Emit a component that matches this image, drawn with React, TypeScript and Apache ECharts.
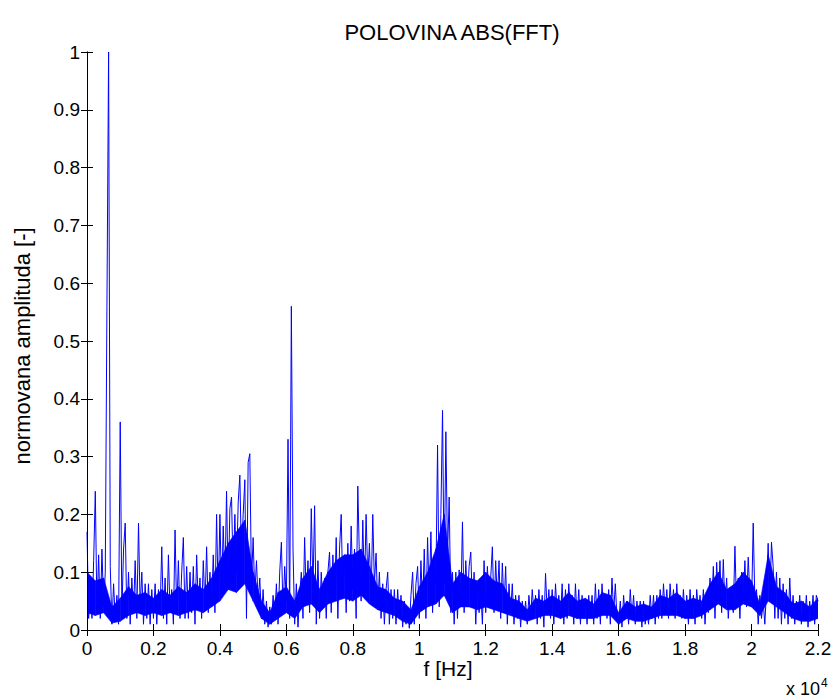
import React, { useEffect, useRef } from "react";
import * as echarts from "echarts";

// Spectrum trace: one sample every 50 Hz, each segment covers 2000 Hz
const STEP_HZ = 50;
const SEG_0 = [0.17, 0.02, 0.09, 0.02, 0.12, 0.24, 0.03, 0.13, 0.02, 0.14, 0.04, 0.1, 0.56, 1.0, 0.11, 0.01, 0.08, 0.02, 0.06, 0.01, 0.36, 0.03, 0.14, 0.185, 0.02, 0.1, 0.01, 0.09, 0.03, 0.12, 0.02, 0.185, 0.04, 0.1, 0.01, 0.08, 0.02, 0.08, 0.01, 0.07];
const SEG_1 = [0.02, 0.08, 0.01, 0.07, 0.03, 0.144, 0.02, 0.09, 0.01, 0.13, 0.03, 0.07, 0.01, 0.173, 0.03, 0.12, 0.02, 0.1, 0.16, 0.02, 0.11, 0.02, 0.1, 0.03, 0.11, 0.01, 0.13, 0.04, 0.09, 0.02, 0.12, 0.04, 0.144, 0.03, 0.1, 0.04, 0.13, 0.03, 0.2, 0.05];
const SEG_2 = [0.2, 0.06, 0.18, 0.08, 0.24, 0.07, 0.21, 0.23, 0.09, 0.2, 0.1, 0.22, 0.268, 0.12, 0.2, 0.26, 0.02, 0.29, 0.305, 0.08, 0.16, 0.06, 0.12, 0.05, 0.09, 0.02, 0.07, 0.01, 0.05, 0.005, 0.04, 0.01, 0.06, 0.02, 0.08, 0.01, 0.1, 0.152, 0.03, 0.11];
const SEG_3 = [0.05, 0.33, 0.02, 0.56, 0.14, 0.01, 0.08, 0.005, 0.06, 0.1, 0.02, 0.16, 0.05, 0.12, 0.03, 0.21, 0.07, 0.215, 0.01, 0.12, 0.02, 0.1, 0.04, 0.09, 0.02, 0.1, 0.135, 0.03, 0.13, 0.05, 0.16, 0.02, 0.14, 0.2, 0.06, 0.13, 0.03, 0.15, 0.05, 0.18];
const SEG_4 = [0.07, 0.14, 0.02, 0.249, 0.12, 0.05, 0.19, 0.07, 0.2, 0.09, 0.15, 0.05, 0.2, 0.08, 0.133, 0.04, 0.1, 0.02, 0.08, 0.01, 0.07, 0.1, 0.01, 0.07, 0.02, 0.07, 0.01, 0.07, 0.02, 0.06, 0.005, 0.05, 0.01, 0.04, 0.003, 0.06, 0.1, 0.01, 0.08, 0.11];
const SEG_5 = [0.02, 0.12, 0.04, 0.14, 0.02, 0.16, 0.05, 0.17, 0.03, 0.12, 0.08, 0.32, 0.04, 0.2, 0.38, 0.08, 0.343, 0.13, 0.23, 0.03, 0.1, 0.01, 0.1, 0.02, 0.104, 0.04, 0.187, 0.03, 0.12, 0.05, 0.11, 0.135, 0.04, 0.1, 0.01, 0.08, 0.03, 0.07, 0.01, 0.12];
const SEG_6 = [0.03, 0.11, 0.05, 0.09, 0.144, 0.03, 0.12, 0.05, 0.12, 0.02, 0.116, 0.04, 0.11, 0.01, 0.08, 0.03, 0.08, 0.01, 0.06, 0.02, 0.06, 0.005, 0.05, 0.02, 0.05, 0.01, 0.06, 0.02, 0.07, 0.03, 0.06, 0.01, 0.07, 0.02, 0.06, 0.005, 0.098, 0.03, 0.07, 0.02];
const SEG_7 = [0.07, 0.01, 0.08, 0.03, 0.06, 0.02, 0.08, 0.01, 0.07, 0.02, 0.08, 0.03, 0.06, 0.01, 0.08, 0.02, 0.07, 0.01, 0.06, 0.02, 0.05, 0.01, 0.06, 0.02, 0.06, 0.01, 0.08, 0.02, 0.07, 0.01, 0.08, 0.03, 0.06, 0.02, 0.07, 0.01, 0.09, 0.03, 0.08, 0.02];
const SEG_8 = [0.01, 0.05, 0.005, 0.06, 0.02, 0.05, 0.01, 0.07, 0.02, 0.06, 0.01, 0.05, 0.02, 0.05, 0.005, 0.05, 0.01, 0.04, 0.01, 0.06, 0.02, 0.06, 0.01, 0.06, 0.02, 0.07, 0.02, 0.08, 0.03, 0.07, 0.02, 0.08, 0.03, 0.07, 0.02, 0.08, 0.03, 0.06, 0.02, 0.07];
const SEG_9 = [0.02, 0.06, 0.01, 0.07, 0.02, 0.06, 0.01, 0.07, 0.03, 0.06, 0.02, 0.07, 0.01, 0.06, 0.03, 0.09, 0.04, 0.11, 0.02, 0.117, 0.05, 0.12, 0.03, 0.122, 0.04, 0.09, 0.02, 0.07, 0.07, 0.03, 0.145, 0.04, 0.09, 0.02, 0.1, 0.05, 0.12, 0.04, 0.126, 0.06];
const SEG_10 = [0.04, 0.185, 0.05, 0.07, 0.01, 0.06, 0.02, 0.05, 0.01, 0.07, 0.15, 0.05, 0.152, 0.11, 0.02, 0.1, 0.02, 0.09, 0.01, 0.08, 0.02, 0.07, 0.01, 0.09, 0.02, 0.06, 0.01, 0.05, 0.02, 0.06, 0.01, 0.05, 0.02, 0.06, 0.005, 0.05, 0.02, 0.06, 0.01, 0.06, 0.05];

// Dense core of the trace (lower / upper edge of the solid band), one value every 250 Hz
const CORE_STEP_HZ = 250;
const CORE_LO = [
  0.03, 0.025, 0.03, 0.012, 0.015, 0.025, 0.03, 0.025,
  0.03, 0.025, 0.03, 0.025, 0.03, 0.035, 0.03, 0.04,
  0.05, 0.07, 0.065, 0.08, 0.05, 0.02, 0.01, 0.02,
  0.03, 0.02, 0.04, 0.045, 0.03, 0.045, 0.05, 0.055,
  0.05, 0.06, 0.045, 0.035, 0.03, 0.025, 0.015, 0.01,
  0.03, 0.04, 0.045, 0.06, 0.03, 0.04, 0.04, 0.035,
  0.04, 0.035, 0.03, 0.025, 0.02, 0.015, 0.02, 0.025,
  0.025, 0.02, 0.025, 0.02, 0.02, 0.02, 0.025, 0.025,
  0.01, 0.02, 0.015, 0.015, 0.02, 0.025, 0.025, 0.025,
  0.02, 0.02, 0.025, 0.035, 0.045, 0.035, 0.035, 0.045,
  0.04, 0.025, 0.05, 0.04, 0.03, 0.02, 0.015, 0.015,
  0.02,
];
const CORE_HI = [
  0.1, 0.085, 0.09, 0.04, 0.055, 0.075, 0.06, 0.065,
  0.055, 0.07, 0.06, 0.075, 0.065, 0.08, 0.07, 0.09,
  0.12, 0.15, 0.17, 0.19, 0.1, 0.05, 0.03, 0.065,
  0.075, 0.05, 0.09, 0.11, 0.07, 0.1, 0.12, 0.13,
  0.13, 0.14, 0.11, 0.075, 0.07, 0.055, 0.05, 0.035,
  0.075, 0.1, 0.14, 0.2, 0.08, 0.1, 0.09, 0.085,
  0.1, 0.085, 0.08, 0.055, 0.05, 0.035, 0.055, 0.05,
  0.06, 0.05, 0.065, 0.05, 0.055, 0.045, 0.065, 0.06,
  0.03, 0.05, 0.04, 0.045, 0.04, 0.06, 0.055, 0.065,
  0.05, 0.055, 0.05, 0.08, 0.1, 0.07, 0.08, 0.1,
  0.085, 0.045, 0.13, 0.075, 0.065, 0.045, 0.05, 0.04,
  0.055,
];

const X_TICKS = [0, 0.2, 0.4, 0.6, 0.8, 1, 1.2, 1.4, 1.6, 1.8, 2, 2.2];
const Y_TICKS = [0, 0.1, 0.2, 0.3, 0.4, 0.5, 0.6, 0.7, 0.8, 0.9, 1];

const TITLE = "POLOVINA ABS(FFT)";
const X_LABEL = "f [Hz]";
const Y_LABEL = "normovana amplituda [-]";

const FONT = "'Liberation Sans', Arial, sans-serif";
const BLUE = "#0000ff";

export default function App() {
  const ref = useRef<HTMLDivElement>(null);
  useEffect(() => {
    document.body.style.margin = "0";
    if (!ref.current) return;
    const chart = echarts.init(ref.current, undefined, { renderer: "svg" });
    const all = [
      ...SEG_0, ...SEG_1, ...SEG_2, ...SEG_3, ...SEG_4, ...SEG_5,
      ...SEG_6, ...SEG_7, ...SEG_8, ...SEG_9, ...SEG_10,
    ];
    const data = all.map((v, i) => [i * STEP_HZ, v]);
    const core = CORE_LO.map((lo, i) => [i * CORE_STEP_HZ, lo, CORE_HI[i]]);
    const fmt = (v: number) => String(+v.toFixed(1));
    const xMax = X_TICKS[X_TICKS.length - 1] * 10000;
    const xInt = (X_TICKS[1] - X_TICKS[0]) * 10000;
    const yMax = Y_TICKS[Y_TICKS.length - 1];
    const yInt = Y_TICKS[1] - Y_TICKS[0];
    const axisCommon = {
      axisLine: { show: true, lineStyle: { color: "#000", width: 1 } },
      axisTick: { show: true, inside: true, length: 6, lineStyle: { color: "#000" } },
      splitLine: { show: false },
    };
    chart.setOption({
      animation: false,
      backgroundColor: "#fff",
      grid: { left: 87, right: 21, top: 52, bottom: 68, containLabel: false },
      xAxis: [
        {
          type: "value", min: 0, max: xMax, interval: xInt, position: "bottom",
          ...axisCommon,
          axisLabel: {
            formatter: (v: number) => fmt(v / 10000),
            color: "#000", fontSize: 19, fontFamily: FONT, margin: 9,
          },
          z: 10,
        },
        {
          type: "value", min: 0, max: xMax, interval: xInt, position: "top",
          ...axisCommon, axisLabel: { show: false }, z: 10,
        },
      ],
      yAxis: [
        {
          type: "value", min: 0, max: yMax, interval: yInt, position: "left",
          ...axisCommon,
          axisLabel: {
            formatter: (v: number) => fmt(v),
            color: "#000", fontSize: 19, fontFamily: FONT, margin: 7,
          },
          z: 10,
        },
        {
          type: "value", min: 0, max: yMax, interval: yInt, position: "right",
          ...axisCommon, axisLabel: { show: false }, z: 10,
        },
      ],
      series: [
        {
          type: "custom",
          data: core,
          silent: true,
          clip: true,
          encode: { x: 0, y: [1, 2] },
          renderItem: (params: any, api: any) => {
            const i = params.dataIndex;
            if (i >= core.length - 1) return null;
            const a = core[i];
            const b = core[i + 1];
            const p1 = api.coord([a[0], a[1]]);
            const p2 = api.coord([a[0], a[2]]);
            const p3 = api.coord([b[0], b[2]]);
            const p4 = api.coord([b[0], b[1]]);
            return {
              type: "polygon",
              shape: { points: [p1, p2, p3, p4] },
              style: { fill: BLUE, stroke: BLUE, lineWidth: 0.6 },
            };
          },
        },
        {
          type: "line",
          data,
          showSymbol: false,
          symbol: "none",
          lineStyle: { color: BLUE, width: 1 },
          clip: true,
        },
      ],
      graphic: [
        {
          type: "text", x: 452, y: 32,
          style: { text: TITLE, fill: "#000", font: `22px ${FONT}`, align: "center", verticalAlign: "middle" },
        },
        {
          type: "text", x: 448, y: 668,
          style: { text: X_LABEL, fill: "#000", font: `21px ${FONT}`, align: "center", verticalAlign: "middle" },
        },
        {
          type: "text", x: 22, y: 346, rotation: Math.PI / 2,
          style: { text: Y_LABEL, fill: "#000", font: `22px ${FONT}`, align: "center", verticalAlign: "middle" },
        },
        {
          type: "text", x: 786, y: 689,
          style: {
            text: "x 10{sup|4}", fill: "#000", font: `18px ${FONT}`, align: "left", verticalAlign: "middle",
            rich: { sup: { fontSize: 12, fontFamily: FONT, verticalAlign: "bottom", padding: [0, 0, 12, 1] } },
          },
        },
      ],
    });
    return () => chart.dispose();
  }, []);
  return <div ref={ref} style={{ width: 839, height: 698 }} />;
}
